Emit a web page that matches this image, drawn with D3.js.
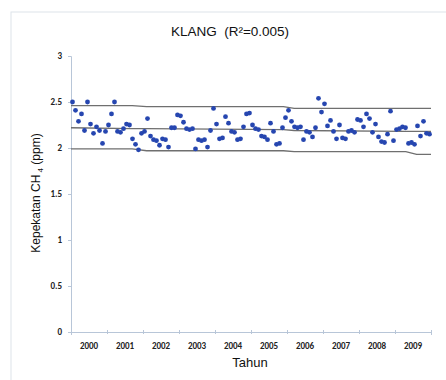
<!DOCTYPE html>
<html>
<head>
<meta charset="utf-8">
<script src="https://cdn.jsdelivr.net/npm/d3@7"></script>
<style>
  body { margin: 0; background: #fff; }
  text { font-family: "Liberation Sans", Arial, sans-serif; }
</style>
</head>
<body>
<script>
// Data: monthly CH4 readings Jan 2000 - Dec 2009 (ppm)
const years = ["2000","2001","2002","2003","2004","2005","2006","2007","2008","2009"]
const yTicks = [0, 0.5, 1, 1.5, 2, 2.5, 3]
const ch4 = [
  2.50, 2.41, 2.29, 2.37, 2.19, 2.50, 2.26, 2.16, 2.23, 2.19, 2.05, 2.18,
  2.25, 2.37, 2.50, 2.18, 2.17, 2.21, 2.26, 2.25, 2.10, 2.04, 1.98, 2.16,
  2.18, 2.32, 2.13, 2.09, 2.08, 2.03, 2.10, 2.09, 2.01, 2.22, 2.22, 2.36,
  2.35, 2.28, 2.21, 2.20, 2.21, 1.99, 2.09, 2.08, 2.09, 2.01, 2.19, 2.43,
  2.26, 2.10, 2.11, 2.34, 2.27, 2.18, 2.17, 2.09, 2.10, 2.23, 2.37, 2.38,
  2.25, 2.21, 2.20, 2.13, 2.12, 2.09, 2.27, 2.18, 2.04, 2.05, 2.22, 2.33,
  2.41, 2.29, 2.23, 2.22, 2.23, 2.09, 2.18, 2.17, 2.12, 2.22, 2.54, 2.39,
  2.48, 2.24, 2.30, 2.18, 2.10, 2.25, 2.11, 2.10, 2.18, 2.19, 2.17, 2.31,
  2.30, 2.23, 2.37, 2.32, 2.17, 2.26, 2.12, 2.07, 2.06, 2.15, 2.40, 2.08,
  2.20, 2.21, 2.23, 2.22, 2.05, 2.06, 2.04, 2.24, 2.13, 2.29, 2.16, 2.15
]
// trend line and band
const bandYears = [0, 1.7, 2.1, 5.9, 6.2, 9.3, 9.6, 10]
const upper  = [2.46, 2.46, 2.45, 2.45, 2.43, 2.43, 2.43, 2.43]
const center = [2.22, 2.21, 2.21, 2.20, 2.19, 2.18, 2.18, 2.18]
const lower  = [1.99, 1.99, 1.97, 1.97, 1.96, 1.96, 1.93, 1.93]

let W = 446, H = 380
let svg = d3.select("body").append("svg")
    .attr("width", W).attr("height", H)

// outer chart frame
svg.append("rect")
    .attr("x", 11).attr("y", 12)
    .attr("width", 450).attr("height", 380)
    .attr("fill", "none").attr("stroke", "#dde3ea")

let x = d3.scaleLinear().domain([0, 10]).range([71, 431])
let y = d3.scaleLinear().domain([0, 3]).range([332, 56])

// title
svg.append("text")
    .attr("x", 230).attr("y", 36)
    .attr("text-anchor", "middle")
    .style("white-space", "pre")
    .style("font-size", "13.5px").style("fill", "#111")
    .text("KLANG  (R²=0.005)")

// y axis
let yAxis = svg.append("g")
    .attr("transform", "translate(71,0)")
    .call(d3.axisLeft(y).tickValues(yTicks).tickSize(3).tickPadding(6)
        .tickFormat(d => d))
yAxis.select(".domain").attr("stroke", "#b8c6d8")
yAxis.selectAll(".tick line").attr("stroke", "#b8c6d8")
yAxis.selectAll("text")
    .style("font-size", "9px").style("font-weight", "bold")
    .style("fill", "#222").style("font-family", "Carlito, 'Liberation Sans', sans-serif")

// x axis
let xAxis = svg.append("g")
    .attr("transform", "translate(0," + y(0) + ")")
    .call(d3.axisBottom(x).tickValues(d3.range(0, 11)).tickSize(3).tickFormat(""))
xAxis.select(".domain").attr("stroke", "#b8c6d8")
xAxis.selectAll(".tick line").attr("stroke", "#b8c6d8").attr("y1", -2).attr("y2", 2)

svg.append("g").selectAll("text")
    .data(years)
    .join("text")
    .attr("x", (d, i) => x(i + 0.5))
    .attr("y", y(0) + 17)
    .attr("text-anchor", "middle")
    .style("font-size", "9px").style("font-weight", "bold")
    .style("fill", "#222").style("font-family", "Carlito, 'Liberation Sans', sans-serif")
    .text(d => d)

// axis titles
svg.append("text")
    .attr("x", 250).attr("y", 367)
    .attr("text-anchor", "middle")
    .style("font-size", "13px").style("fill", "#111")
    .text("Tahun")

let ylab = svg.append("text")
    .attr("transform", "translate(40,193) rotate(-90)")
    .attr("text-anchor", "middle")
    .style("font-size", "12px").style("fill", "#111")
ylab.append("tspan").text("Kepekatan CH")
ylab.append("tspan").attr("dy", 3).style("font-size", "8px").text(" 4")
ylab.append("tspan").attr("dy", -3).text(" (ppm)")

// band lines
let line = d3.line().x((d, i) => x(bandYears[i])).y(d => y(d))
svg.append("g").selectAll("path")
    .data([upper, center, lower])
    .join("path")
    .attr("d", line)
    .attr("fill", "none")
    .attr("stroke", "#6f6f6f")
    .attr("stroke-width", 1.3)

// points
svg.append("g").selectAll("circle")
    .data(ch4)
    .join("circle")
    .attr("cx", (d, i) => x((i + 0.5) / 12))
    .attr("cy", d => y(d))
    .attr("r", 2.4)
    .attr("fill", "#2646b0")
</script>
</body>
</html>
